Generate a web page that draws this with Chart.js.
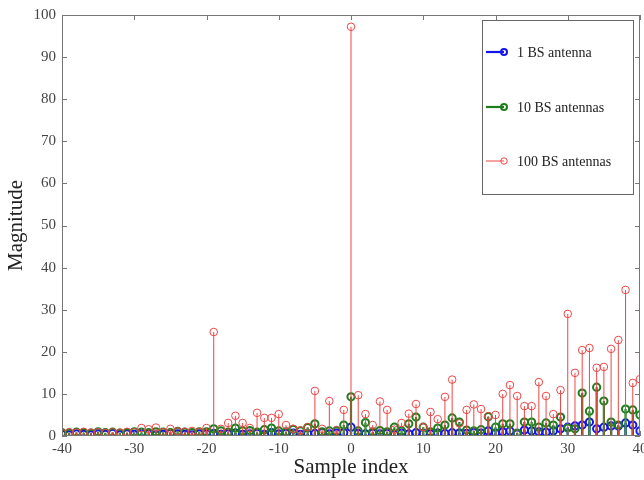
<!DOCTYPE html>
<html>
<head>
<meta charset="utf-8">
<script src="https://cdn.jsdelivr.net/npm/chart.js@4"></script>
<style>
html,body{margin:0;padding:0;background:#fff;}
canvas{display:block;}
</style>
</head>
<body>
<canvas id="c" width="644" height="480"></canvas>
<script>
// Sample indices -40..40
const sampleIndex = Array.from({length: 81}, (_, i) => i - 40);
const xTicks = [-40, -30, -20, -10, 0, 10, 20, 30, 40];
const yTicks = [0, 10, 20, 30, 40, 50, 60, 70, 80, 90, 100];
const seriesNames = ['1 BS antenna', '10 BS antennas', '100 BS antennas'];

const bs1 = [
  0.4,0.3,0.5,0.4,0.3,0.5,0.4,0.6,0.3,0.5,0.4,0.6,0.5,0.3,0.4,0.6,0.5,0.4,0.3,0.5,
  0.5,0.6,0.4,0.5,0.7,0.4,0.5,0.6,0.4,0.8,0.5,0.6,0.7,0.4,0.5,0.6,0.8,0.5,0.7,0.8,
  2.1,
  0.6,0.5,0.7,0.5,0.6,0.4,0.7,0.5,0.8,0.6,0.5,0.7,0.6,0.8,0.7,0.6,0.8,0.7,1.2,
  0.7,1.0,1.2,0.5,1.4,1.2,1.0,0.9,1.2,1.7,2.1,2.4,2.6,3.3,1.7,2.1,2.4,2.4,3.1,2.6,1.2
];
const bs10 = [
  0.8,0.7,0.9,0.8,0.7,1.0,0.8,0.9,0.7,0.8,1.0,0.9,0.8,1.0,0.9,0.8,1.1,0.9,0.8,1.0,
  1.0,1.7,1.2,0.9,1.9,1.2,1.3,0.9,1.5,1.9,1.2,1.0,1.6,1.2,2.0,2.9,1.0,1.2,1.2,2.6,
  9.3,
  1.2,3.2,1.0,1.3,1.0,2.1,1.2,2.9,4.5,2.1,1.0,1.9,2.6,4.3,3.3,1.4,1.2,1.5,4.6,
  2.1,2.9,2.9,0.7,3.3,3.3,2.1,3.1,2.6,4.5,1.9,1.7,10.2,5.9,11.6,8.3,3.3,2.6,6.4,6.2,5.0
];
const bs100 = [
  0.7,0.9,0.8,1.0,0.8,0.9,0.7,0.9,0.8,1.0,0.9,1.9,1.6,2.0,0.9,1.7,1.1,1.0,1.2,1.0,
  1.9,24.7,1.7,3.1,4.8,3.1,1.9,5.5,4.3,4.3,5.2,2.6,1.7,1.3,2.1,10.7,1.7,8.3,1.4,6.2,
  97.2,
  9.7,5.2,2.6,8.2,6.2,1.5,3.1,5.3,7.6,2.1,5.7,4.0,9.3,13.4,3.0,6.2,7.5,6.4,4.7,
  5.0,10.0,12.1,9.5,7.1,7.1,12.8,9.5,5.2,10.9,29.0,15.0,20.4,20.9,16.2,16.4,20.7,22.8,34.7,12.6,13.5
];

const COLORS = ['rgb(20,20,235)', 'rgb(30,125,30)', 'rgb(238,70,70)'];
const LINEW = [2.2, 2.2, 1];
const RADIUS = [3.6, 3.6, 3.8];
const PTBW = [2, 2, 1];

function stems(vals) {
  const out = [];
  sampleIndex.forEach((x, i) => {
    out.push({x: x, y: 0});
    out.push({x: x, y: vals[i]});
    out.push({x: x, y: null});
  });
  return out;
}

function makeDataset(k, vals, order) {
  return {
    label: seriesNames[k],
    data: stems(vals),
    showLine: true,
    spanGaps: false,
    borderColor: COLORS[k],
    borderWidth: LINEW[k],
    pointBorderColor: COLORS[k],
    pointBackgroundColor: 'rgba(255,255,255,0)',
    pointBorderWidth: PTBW[k],
    pointRadius: ctx => (ctx.index % 3 === 1 ? RADIUS[k] : 0),
    pointHoverRadius: ctx => (ctx.index % 3 === 1 ? RADIUS[k] : 0),
    order: order
  };
}

const serif = "'Liberation Serif', 'DejaVu Serif', serif";

const framePlugin = {
  id: 'frame',
  afterDatasetsDraw(chart) {
    const {ctx, chartArea: a, scales} = chart;
    ctx.save();
    ctx.strokeStyle = '#777';
    ctx.lineWidth = 1;
    ctx.strokeRect(a.left + 0.5, a.top + 0.5, a.right - a.left - 1, a.bottom - a.top - 1);
    const tl = 5;
    ctx.beginPath();
    xTicks.forEach(v => {
      const px = Math.round(scales.x.getPixelForValue(v)) + 0.5;
      ctx.moveTo(px, a.bottom); ctx.lineTo(px, a.bottom - tl);
      ctx.moveTo(px, a.top); ctx.lineTo(px, a.top + tl);
    });
    yTicks.forEach(v => {
      const py = Math.round(scales.y.getPixelForValue(v)) + 0.5;
      ctx.moveTo(a.left, py); ctx.lineTo(a.left + tl, py);
      ctx.moveTo(a.right, py); ctx.lineTo(a.right - tl, py);
    });
    ctx.stroke();

    // legend box
    const bx = a.right - 158, by = a.top + 5, bw = 151, bh = 174;
    ctx.fillStyle = '#fff';
    ctx.fillRect(bx, by, bw, bh);
    ctx.strokeStyle = '#666';
    ctx.strokeRect(bx + 0.5, by + 0.5, bw, bh);
    const rows = [by + 32, by + 87, by + 141];
    ctx.font = "14px " + serif;
    ctx.textBaseline = 'middle';
    ctx.textAlign = 'left';
    [0, 1, 2].forEach(k => {
      const y = rows[k];
      ctx.strokeStyle = COLORS[k];
      ctx.lineWidth = LINEW[k];
      ctx.beginPath();
      ctx.moveTo(bx + 4, y); ctx.lineTo(bx + 22, y);
      ctx.stroke();
      ctx.lineWidth = PTBW[k];
      ctx.beginPath();
      ctx.arc(bx + 22, y, RADIUS[k] - 0.6, 0, Math.PI * 2);
      ctx.stroke();
      ctx.fillStyle = '#222';
      ctx.fillText(seriesNames[k], bx + 35, y + 1);
    });
    ctx.restore();
  }
};

new Chart(document.getElementById('c'), {
  type: 'scatter',
  data: {
    datasets: [
      makeDataset(0, bs1, 2),
      makeDataset(1, bs10, 1),
      makeDataset(2, bs100, 0)
    ]
  },
  options: {
    responsive: false,
    animation: false,
    layout: {padding: {top: 15, right: 4, left: 0, bottom: 0}},
    plugins: {legend: {display: false}, tooltip: {enabled: false}},
    scales: {
      x: {
        type: 'linear', min: -40, max: 40,
        afterFit(s) { s.height = 44; s.paddingLeft = 0; s.paddingRight = 0; },
        afterBuildTicks(s) { s.ticks = xTicks.map(v => ({value: v})); },
        grid: {display: false, drawTicks: false},
        border: {display: false},
        ticks: {font: {family: serif, size: 15}, color: '#444', padding: 4, maxRotation: 0},
        title: {display: true, text: 'Sample index', font: {family: serif, size: 21}, color: '#222', padding: 0}
      },
      y: {
        min: 0, max: 100,
        afterFit(s) { s.width = 62; s.paddingTop = 0; s.paddingBottom = 0; },
        afterBuildTicks(s) { s.ticks = yTicks.map(v => ({value: v})); },
        grid: {display: false, drawTicks: false},
        border: {display: false},
        ticks: {font: {family: serif, size: 15}, color: '#444', padding: 6},
        title: {display: true, text: 'Magnitude', font: {family: serif, size: 21}, color: '#222', padding: 4}
      }
    }
  },
  plugins: [framePlugin]
});
</script>
</body>
</html>
